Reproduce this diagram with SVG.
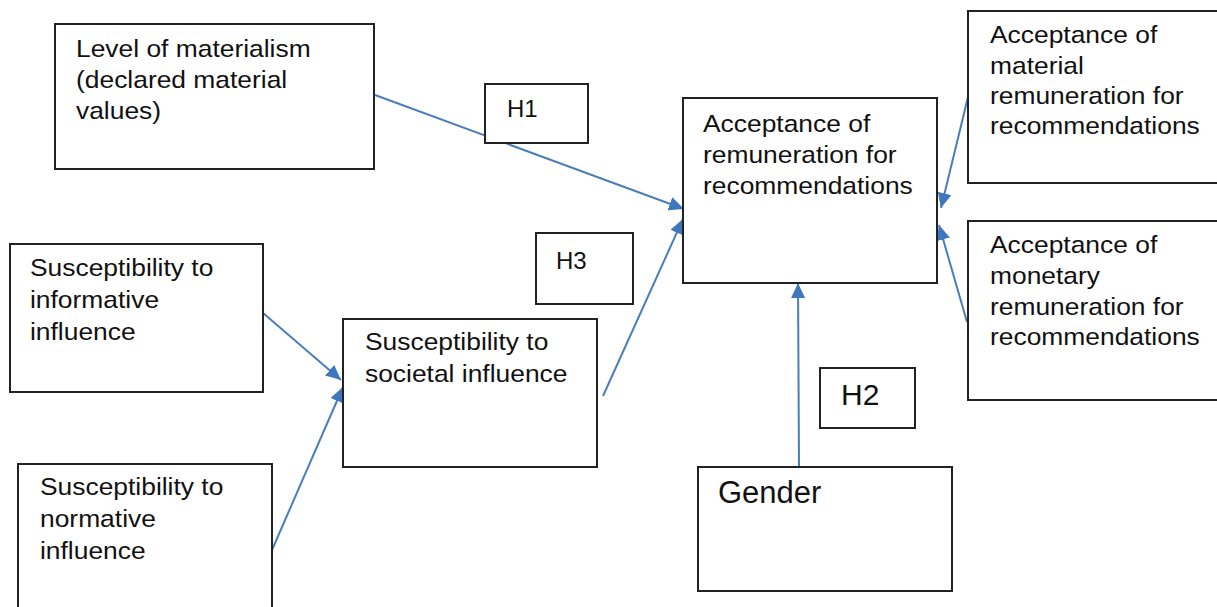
<svg xmlns="http://www.w3.org/2000/svg" width="1217" height="607" viewBox="0 0 1217 607">
<style>
.box{fill:#fff;stroke:#222;stroke-width:2}
.t{font-family:"Liberation Sans",Arial,sans-serif;font-size:24px;fill:#111}
.conn{stroke:#4a7ebb;stroke-width:2;fill:none;marker-end:url(#ah)}
</style>
<defs>
<marker id="ah" markerUnits="userSpaceOnUse" markerWidth="16" markerHeight="14" refX="15" refY="7" orient="auto">
<path d="M0,0 L15,7 L0,14 Z" fill="#3f77bd"/>
</marker>
</defs>
<rect width="1217" height="607" fill="#fff"/>
<g id="connectors">
<line class="conn" x1="375" y1="95" x2="684" y2="209"/>
<line class="conn" x1="603" y1="396" x2="683" y2="219"/>
<line class="conn" x1="263" y1="313" x2="341" y2="380"/>
<line class="conn" x1="272" y1="550" x2="343" y2="387"/>
<line class="conn" x1="799" y1="467" x2="798" y2="283"/>
<line class="conn" x1="968" y1="97" x2="941" y2="208"/>
<line class="conn" x1="967" y1="322" x2="939" y2="225"/>
</g>
<g id="materialism">
<rect class="box" x="55" y="24" width="319" height="145"/>
<text class="t" transform="translate(76,57) scale(1.1,1)"><tspan x="0" y="0">Level of materialism</tspan><tspan x="0" y="31">(declared material</tspan><tspan x="0" y="62">values)</tspan></text>
</g>
<g id="h1">
<rect class="box" x="485" y="84" width="103" height="59"/>
<text class="t" transform="translate(507,117) scale(1.0,1)">H1</text>
</g>
<g id="acceptance">
<rect class="box" x="683" y="98" width="254" height="185"/>
<text class="t" transform="translate(703,132) scale(1.1,1)"><tspan x="0" y="0">Acceptance of</tspan><tspan x="0" y="31">remuneration for</tspan><tspan x="0" y="62">recommendations</tspan></text>
</g>
<g id="material">
<rect class="box" x="968" y="11" width="260" height="172"/>
<text class="t" transform="translate(990,43) scale(1.1,1)"><tspan x="0" y="0">Acceptance of</tspan><tspan x="0" y="31">material</tspan><tspan x="0" y="61">remuneration for</tspan><tspan x="0" y="91">recommendations</tspan></text>
</g>
<g id="monetary">
<rect class="box" x="968" y="221" width="260" height="179"/>
<text class="t" transform="translate(990,253) scale(1.1,1)"><tspan x="0" y="0">Acceptance of</tspan><tspan x="0" y="31">monetary</tspan><tspan x="0" y="62">remuneration for</tspan><tspan x="0" y="92">recommendations</tspan></text>
</g>
<g id="informative">
<rect class="box" x="10" y="244" width="253" height="148"/>
<text class="t" transform="translate(30,276) scale(1.1,1)"><tspan x="0" y="0">Susceptibility to</tspan><tspan x="0" y="32">informative</tspan><tspan x="0" y="64">influence</tspan></text>
</g>
<g id="h3">
<rect class="box" x="536" y="233" width="97" height="71"/>
<text class="t" transform="translate(556,269) scale(1.0,1)">H3</text>
</g>
<g id="societal">
<rect class="box" x="343" y="319" width="254" height="148"/>
<text class="t" transform="translate(365,350) scale(1.1,1)"><tspan x="0" y="0">Susceptibility to</tspan><tspan x="0" y="32">societal influence</tspan></text>
</g>
<g id="normative">
<rect class="box" x="18" y="464" width="254" height="160"/>
<text class="t" transform="translate(40,495) scale(1.1,1)"><tspan x="0" y="0">Susceptibility to</tspan><tspan x="0" y="32">normative</tspan><tspan x="0" y="64">influence</tspan></text>
</g>
<g id="h2">
<rect class="box" x="820" y="368" width="95" height="60"/>
<text class="t" style="font-size:30px" x="841" y="405">H2</text>
</g>
<g id="gender">
<rect class="box" x="698" y="467" width="254" height="124"/>
<text class="t" style="font-size:31px" x="718" y="503">Gender</text>
</g>
</svg>
